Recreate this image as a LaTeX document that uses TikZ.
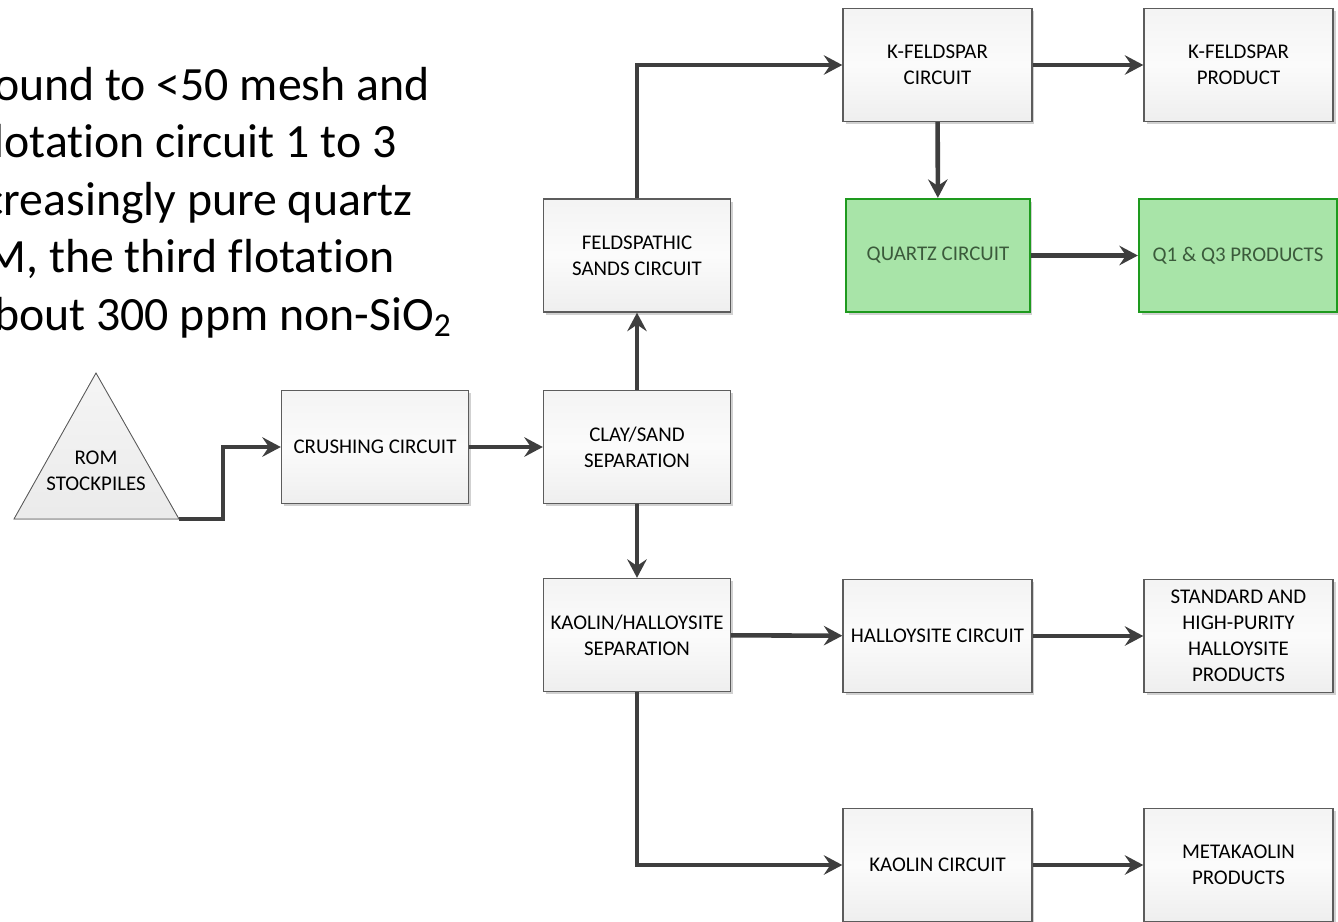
\documentclass[tikz,border=0pt]{standalone}
\usepackage{fontspec}
\setmainfont{Carlito}[Ligatures=NoCommon]
\usetikzlibrary{arrows.meta,shadows}

\definecolor{boxline}{HTML}{5C5C5C}
\definecolor{flowline}{HTML}{3E3E3E}
\definecolor{qfill}{HTML}{A8E4A8}
\definecolor{qline}{HTML}{1E9A1E}
\definecolor{qtext}{HTML}{3B5A3B}
\newcommand{\boxfont}{\fontsize{11.9}{14.8}\selectfont}
\newcommand{\slidefont}{\fontsize{27.2}{32.7}\selectfont}

\begin{document}
\begin{tikzpicture}[x=0.02cm, y=-0.02cm, every node/.style={font=\boxfont}, >={Stealth[length=3.7mm,width=3.9mm,inset=1.3mm]},
	proc/.style={draw=boxline, line width=0.8pt, minimum width=3.74cm, minimum height=2.26cm, align=center, inner sep=1pt,
		drop shadow={shadow xshift=0.05cm, shadow yshift=-0.05cm, opacity=0.18, fill=black}},
	plain/.style={proc, top color=gray!9, bottom color=gray!13, middle color=gray!3, text=black},
	quartz/.style={proc, draw=qline, line width=1.3pt, fill=qfill, text=qtext},
	flow/.style={->, draw=flowline, line width=2.6pt},
	slide/.style={anchor=base east, inner sep=0pt, font=\slidefont}]
	\clip (0,0) rectangle (1338,921);
	% cut-off slide text behind the chart
	\node[slide] (l1) at (430,100) {ound to <50 mesh and};
	\node[slide] (l2) at (397,157.5) {lotation circuit 1 to 3};
	\node[slide] (l3) at (413,215) {creasingly pure quartz};
	\node[slide] (l4) at (395,272.5) {M, the third flotation};
	\node[slide] (l5) at (452,330) {bout 300 ppm non-SiO\textsubscript{2}};
	% stockpile
	\filldraw[draw=boxline, line width=0.5pt, top color=gray!8, bottom color=gray!16] (14,519) -- (96,373) -- (179,519) -- cycle;
	\coordinate (rom corner) at (179,519);
	\node[align=center] (rom) at (96,471) {ROM\\STOCKPILES};
	% boxes
	\node[plain] (crush) at (375,447) {CRUSHING CIRCUIT};
	\node[plain] (claysand) at (637,447) {CLAY/SAND\\SEPARATION};
	\node[plain] (feldsands) at (637,255.5) {FELDSPATHIC\\SANDS CIRCUIT};
	\node[plain] (kaohal) at (637,635) {KAOLIN/HALLOYSITE\\SEPARATION};
	\node[plain, minimum width=3.78cm] (kfeld) at (937.5,65) {K-FELDSPAR\\CIRCUIT};
	\node[plain, minimum width=3.78cm] (kfeldprod) at (1238.5,65) {K-FELDSPAR\\PRODUCT};
	\node[quartz, minimum width=3.68cm] (quartz) at (938,255.5) {QUARTZ CIRCUIT};
	\node[quartz, minimum width=3.96cm] (qprod) at (1238,255.5) {Q1 \& Q3 PRODUCTS};
	\node[plain, minimum width=3.78cm] (halcirc) at (937.5,636) {HALLOYSITE CIRCUIT};
	\node[plain, minimum width=3.78cm] (halprod) at (1238.5,636) {STANDARD AND\\HIGH-PURITY\\HALLOYSITE\\PRODUCTS};
	\node[plain, minimum width=3.78cm] (kaocirc) at (937.5,865) {KAOLIN CIRCUIT};
	\node[plain, minimum width=3.78cm] (metakao) at (1238.5,865) {METAKAOLIN\\PRODUCTS};
	% flows
	\draw[flow] (rom corner) -- ++(44,0) |- (crush.west);
	\draw[flow] (crush) -- (claysand);
	\draw[flow] (claysand) -- (feldsands);
	\draw[flow] (claysand) -- (kaohal);
	\draw[flow] (feldsands.north) |- (kfeld.west);
	\draw[flow] (kfeld) -- (kfeldprod);
	\draw[flow] (kfeld) -- (quartz);
	\draw[flow] (quartz) -- (qprod);
	\draw[flow] (kaohal) -- (halcirc);
	\draw[flow] (halcirc) -- (halprod);
	\draw[flow] (kaohal.south) |- (kaocirc.west);
	\draw[flow] (kaocirc) -- (metakao);
\end{tikzpicture}
\end{document}
